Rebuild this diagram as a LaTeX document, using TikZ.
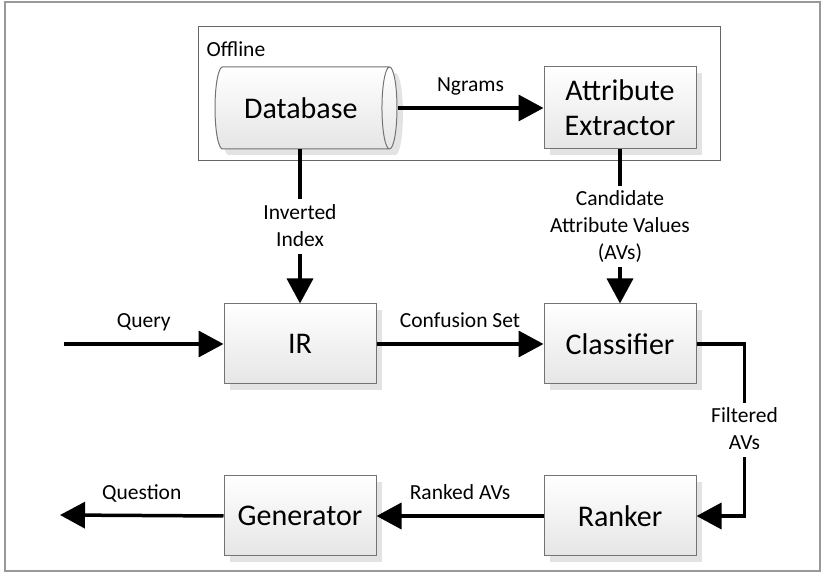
\documentclass[tikz,border=0pt]{standalone}
\usepackage{fontspec}
\setmainfont{Carlito}
\usetikzlibrary{arrows.meta,positioning,shapes.geometric,shadows}

\begin{document}
\begin{tikzpicture}[
    x=1bp, y=1bp,
    font=\fontsize{30bp}{35bp}\selectfont,
    blk/.style={
      rectangle, draw=black!55, line width=1bp, align=center,
      minimum width=152bp, minimum height=80bp, inner sep=2bp,
      top color=white, bottom color=black!10,
      general shadow={fill=black!11, shadow xshift=6bp, shadow yshift=-6bp}
    },
    dbs/.style={
      cylinder, draw=black!55, line width=1bp, aspect=0.6,
      minimum width=82bp, minimum height=182bp, inner sep=2bp,
      top color=white, bottom color=black!10,
      general shadow={fill=black!11, shadow xshift=6bp, shadow yshift=-6bp}
    },
    lbl/.style={
      font=\fontsize{21.5bp}{27bp}\selectfont, align=center,
      inner sep=2bp, text depth=.25em
    },
    gap/.style={fill=white, inner sep=5bp},
    flow/.style={-{Triangle[length=25bp, width=26bp]}, line width=3.5bp}
  ]
    % Page and frame
    \useasboundingbox (0,0) rectangle (822,573);
    \draw[black!40, line width=1.5bp] (5,2) rectangle (820,571);

    % Online pipeline
    \node[blk] (ir) at (300,229) {IR};
    \node[blk, right=167bp of ir] (cls) {Classifier};
    \node[blk, below=91bp of cls] (rnk) {Ranker};
    \node[blk, below=91bp of ir] (gen) {Generator};

    % Offline part
    \node[blk, minimum height=82bp, above=154bp of cls] (ae)
      {Attribute\\Extractor};
    \node[dbs, left=146bp of ae] (db) {Database};
    \node[draw=black!60, line width=1bp,
      minimum width=521bp, minimum height=134bp] (offline) at (459.5,479) {};
    \node[lbl, anchor=base west] at ([shift={(6,-30)}]offline.north west)
      {Offline};

    % Free ends
    \coordinate (qin) at (64,229);
    \coordinate (qout) at (60,58);

    % Connections
    \draw[flow] (db.east) -- node[lbl, above=10bp] {Ngrams} (ae.west);
    \draw[flow] (db.south -| ir.north) --
      node[lbl, gap] {Inverted\\Index} (ir.north);
    \draw[flow] (ae.south) --
      node[lbl, gap] {Candidate\\Attribute Values\\(AVs)} (cls.north);
    \draw[flow] (qin) -- node[lbl, above=10bp] {Query} (ir.west);
    \draw[flow] (ir.east) -- node[lbl, above=10bp] {Confusion Set} (cls.west);
    \draw[flow] (cls.east) -- ++(48,0) |-
      node[lbl, gap, pos=0.25] {Filtered\\AVs} (rnk.east);
    \draw[flow] (rnk.west) -- node[lbl, above=10bp] {Ranked AVs} (gen.east);
    \draw[flow] (gen.west) -- node[lbl, above=10bp] {Question} (qout);
\end{tikzpicture}
\end{document}
